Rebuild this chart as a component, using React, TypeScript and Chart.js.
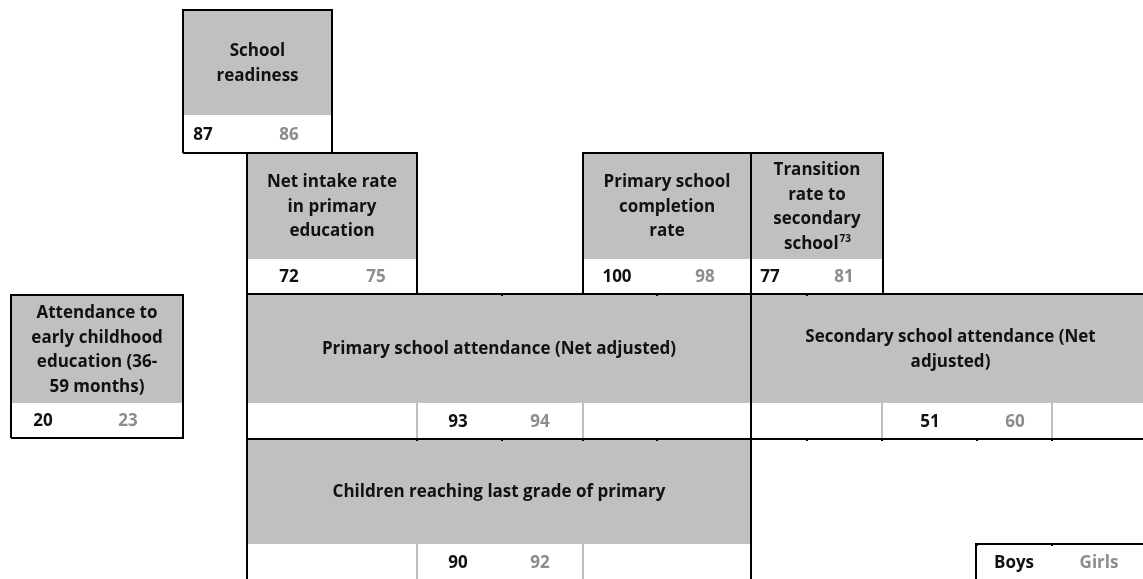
import React, { useEffect, useRef } from "react";
import { Chart, registerables } from "chart.js";

Chart.register(...registerables);

// ---------- DATA ----------
const indicatorLines: string[][] = [
  ["School", "readiness"],
  ["Net intake rate", "in primary", "education"],
  ["Primary school", "completion", "rate"],
  ["Transition", "rate to", "secondary", "school"],
  ["Attendance to", "early childhood", "education (36-", "59 months)"],
  ["Primary school attendance (Net adjusted)"],
  ["Secondary school attendance (Net", "adjusted)"],
  ["Children reaching last grade of primary"],
];
const footnotes = ["", "", "", "73", "", "", "", ""];
const boysValues = [87, 72, 100, 77, 20, 93, 51, 90];
const girlsValues = [86, 75, 98, 81, 23, 94, 60, 92];
const legendLabels = ["Boys", "Girls"];

// ---------- LAYOUT (scale units) ----------
type Box = {
  x0: number; x1: number; yTop: number; yMid: number; yBot: number;
  bx: number; gx: number; grid: number[]; noRight?: boolean; noBottom?: boolean;
};
const boxLayout: Box[] = [
  { x0: 183, x1: 332, yTop: 10, yMid: 115, yBot: 153, bx: 203, gx: 289, grid: [] },
  { x0: 247, x1: 417, yTop: 153, yMid: 259, yBot: 294, bx: 289, gx: 376, grid: [] },
  { x0: 583, x1: 751, yTop: 153, yMid: 259, yBot: 294, bx: 617, gx: 705, grid: [] },
  { x0: 751, x1: 883, yTop: 153, yMid: 259, yBot: 294, bx: 770, gx: 844, grid: [] },
  { x0: 11, x1: 183, yTop: 295, yMid: 403, yBot: 438, bx: 43, gx: 128, grid: [] },
  { x0: 247, x1: 751, yTop: 294, yMid: 403, yBot: 439, bx: 458, gx: 540, grid: [417, 583] },
  { x0: 751, x1: 1150, yTop: 294, yMid: 403, yBot: 439, bx: 930, gx: 1015, grid: [882, 1052], noRight: true },
  { x0: 247, x1: 751, yTop: 439, yMid: 544, yBot: 590, bx: 458, gx: 540, grid: [417, 583], noBottom: true },
];
const legendLayout = { x0: 976, yTop: 544, bx: 1014, gx: 1099 };
// little black border marks at cell edges: [x, y]
const borderTicks: number[][] = [
  [502, 439], [417, 439], [583, 439], [657, 439],
  [807, 439], [977, 439], [1052, 439], [882, 439],
  [502, 294], [657, 294], [807, 294],
  [977, 544], [1052, 544],
];

const HEADER_GRAY = "#c0c0c0";
const GIRLS_GRAY = "#8c8c8c";
const TEXT_BLACK = "#111111";
const FONT = "'Open Sans', 'Noto Sans', sans-serif";
const FS = 17;

const diagramPlugin = {
  id: "diagram",
  afterDraw(chart: any) {
    const { ctx, scales } = chart;
    const sx = scales.x;
    const sy = scales.y;
    const px = (v: number) => Math.round(sx.getPixelForValue(v));
    const py = (v: number) => Math.round(sy.getPixelForValue(v));
    ctx.save();

    // fills
    boxLayout.forEach((b) => {
      ctx.fillStyle = HEADER_GRAY;
      ctx.fillRect(px(b.x0), py(b.yTop), px(b.x1) - px(b.x0), py(b.yMid) - py(b.yTop));
      ctx.fillStyle = "#ffffff";
      ctx.fillRect(px(b.x0), py(b.yMid), px(b.x1) - px(b.x0), py(b.yBot) - py(b.yMid));
    });

    // light grid lines in value rows
    ctx.strokeStyle = "#bfbfbf";
    ctx.lineWidth = 2;
    boxLayout.forEach((b) => {
      b.grid.forEach((g) => {
        ctx.beginPath();
        ctx.moveTo(px(g), py(b.yMid));
        ctx.lineTo(px(g), py(b.yBot));
        ctx.stroke();
      });
    });

    // black borders
    ctx.strokeStyle = "#000000";
    ctx.lineWidth = 2;
    boxLayout.forEach((b) => {
      const l = px(b.x0), r = px(b.x1), t = py(b.yTop), bt = py(b.yBot);
      ctx.beginPath();
      ctx.moveTo(l, bt);
      ctx.lineTo(l, t);
      ctx.lineTo(r, t);
      if (!b.noRight) ctx.lineTo(r, bt); else ctx.moveTo(r, bt);
      if (!b.noBottom) ctx.lineTo(l, bt);
      ctx.stroke();
      if (b.noRight) {
        ctx.beginPath();
        ctx.moveTo(l, bt);
        ctx.lineTo(r, bt);
        ctx.stroke();
      }
    });
    // border ticks
    ctx.fillStyle = "#000000";
    borderTicks.forEach(([tx, ty]) => {
      ctx.fillRect(px(tx) - 1, py(ty) - 1, 2, 3);
    });

    // header texts
    const lineH = 24.5;
    ctx.textBaseline = "middle";
    boxLayout.forEach((b, i) => {
      const lines = indicatorLines[i];
      const cx = (px(b.x0) + px(b.x1)) / 2;
      const cy = (py(b.yTop) + py(b.yMid)) / 2 + 1;
      const start = cy - ((lines.length - 1) * lineH) / 2;
      ctx.fillStyle = TEXT_BLACK;
      lines.forEach((ln, k) => {
        const yy = start + k * lineH;
        const isLast = k === lines.length - 1;
        if (isLast && footnotes[i]) {
          ctx.font = `bold ${FS}px ${FONT}`;
          const w1 = ctx.measureText(ln).width;
          ctx.font = `bold 10px ${FONT}`;
          const w2 = ctx.measureText(footnotes[i]).width;
          const x0 = cx - (w1 + w2) / 2;
          ctx.textAlign = "left";
          ctx.font = `bold ${FS}px ${FONT}`;
          ctx.fillText(ln, x0, yy);
          ctx.font = `bold 10px ${FONT}`;
          ctx.fillText(footnotes[i], x0 + w1 + 1, yy - 5);
        } else {
          ctx.font = `bold ${FS}px ${FONT}`;
          ctx.textAlign = "center";
          ctx.fillText(ln, cx, yy);
        }
      });
      // values
      const vy = (py(b.yMid) + py(Math.min(b.yBot, 580))) / 2 + 1;
      ctx.font = `bold ${FS}px ${FONT}`;
      ctx.textAlign = "center";
      ctx.fillStyle = TEXT_BLACK;
      ctx.fillText(String(boysValues[i]), px(b.bx), vy);
      ctx.fillStyle = GIRLS_GRAY;
      ctx.fillText(String(girlsValues[i]), px(b.gx), vy);
    });

    // legend box
    ctx.strokeStyle = "#000000";
    ctx.lineWidth = 2;
    ctx.beginPath();
    ctx.moveTo(px(legendLayout.x0), py(600));
    ctx.lineTo(px(legendLayout.x0), py(legendLayout.yTop));
    ctx.lineTo(px(1150), py(legendLayout.yTop));
    ctx.stroke();
    const ly = (py(legendLayout.yTop) + py(580)) / 2 + 1;
    ctx.font = `bold ${FS}px ${FONT}`;
    ctx.textAlign = "center";
    ctx.fillStyle = TEXT_BLACK;
    ctx.fillText(legendLabels[0], px(legendLayout.bx), ly);
    ctx.fillStyle = GIRLS_GRAY;
    ctx.fillText(legendLabels[1], px(legendLayout.gx), ly);

    ctx.restore();
  },
};

export default function App() {
  const canvasRef = useRef<HTMLCanvasElement | null>(null);
  useEffect(() => {
    document.body.style.margin = "0";
    const canvas = canvasRef.current;
    if (!canvas) return;
    const chart = new Chart(canvas, {
      type: "scatter",
      data: { datasets: [] },
      options: {
        responsive: false,
        animation: false,
        events: [],
        layout: { padding: 0 },
        plugins: { legend: { display: false }, tooltip: { enabled: false } },
        scales: {
          x: { type: "linear", display: false, min: 0, max: 1143 },
          y: { type: "linear", display: false, min: 0, max: 579, reverse: true },
        },
      },
      plugins: [diagramPlugin],
    });
    return () => chart.destroy();
  }, []);
  return (
    <div style={{ width: 1143, height: 579, background: "#ffffff" }}>
      <canvas ref={canvasRef} width={1143} height={579} style={{ display: "block" }} />
    </div>
  );
}
